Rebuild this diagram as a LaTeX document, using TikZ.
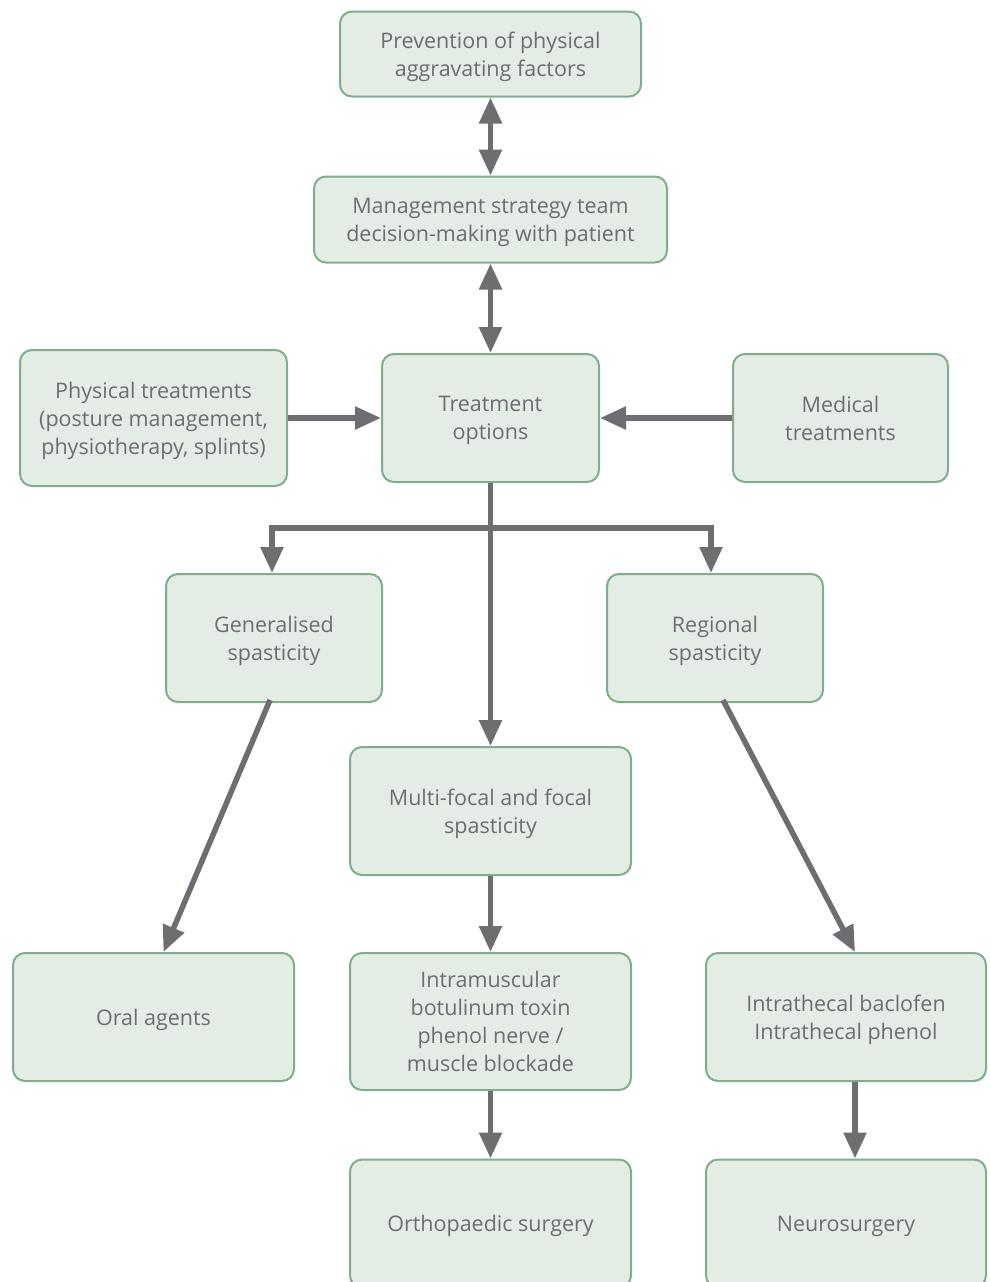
\documentclass[tikz,border=0pt]{standalone}
\usepackage{fontspec}
\setmainfont{Open Sans}
\usetikzlibrary{arrows.meta}
\definecolor{boxfill}{HTML}{E3ECE5}
\definecolor{boxline}{HTML}{80AD8C}
\definecolor{txt}{HTML}{6D6E71}
\definecolor{arrowc}{HTML}{6D6E72}
\begin{document}
\begin{tikzpicture}[x=1pt,y=-1pt,
  box/.style={draw=boxline, fill=boxfill, line width=2pt, rounded corners=12pt,
    align=center, text=txt, inner sep=0pt, text depth=-5pt,
    font=\fontsize{21.5}{28}\selectfont},
  arr/.style={draw=arrowc, line width=5.5pt, -{Triangle[length=26pt,width=22pt]}},
  darr/.style={draw=arrowc, line width=5.5pt, {Triangle[length=26pt,width=22pt]}-{Triangle[length=26pt,width=22pt]}},
  plain/.style={draw=arrowc, line width=5.5pt}
]
\useasboundingbox (0,0) rectangle (990,1282);

% boxes
\node[box, minimum width=301pt, minimum height=85pt] (prev) at (490.5,54)
  {Prevention of physical\\aggravating factors};
\node[box, minimum width=353pt, minimum height=86pt] (mgmt) at (490.5,219.5)
  {Management strategy team\\decision-making with patient};
\node[box, minimum width=267pt, minimum height=136pt] (phys) at (153.5,418)
  {Physical treatments\\(posture management,\\physiotherapy, splints)};
\node[box, minimum width=217pt, minimum height=128pt] (treat) at (490.5,418)
  {Treatment\\options};
\node[box, minimum width=215pt, minimum height=128pt] (med) at (840.5,418)
  {Medical\\treatments};
\node[box, minimum width=216pt, minimum height=128pt] (gen) at (274,638)
  {Generalised\\spasticity};
\node[box, minimum width=216pt, minimum height=128pt] (reg) at (715,638)
  {Regional\\spasticity};
\node[box, minimum width=281pt, minimum height=128pt] (multi) at (490.5,811)
  {Multi-focal and focal\\spasticity};
\node[box, minimum width=281pt, minimum height=128pt] (oral) at (153.5,1017)
  {Oral agents};
\node[box, minimum width=281pt, minimum height=137pt] (intra) at (490.5,1021.5)
  {Intramuscular\\botulinum toxin\\phenol nerve /\\muscle blockade};
\node[box, minimum width=280pt, minimum height=128pt] (ith) at (846,1017)
  {Intrathecal baclofen\\Intrathecal phenol};
% the last row runs past the lower edge of the page
\node[box, minimum width=281pt, minimum height=128pt] (ortho) at (490.5,1223.5)
  {Orthopaedic surgery};
\node[box, minimum width=280pt, minimum height=128pt] (neuro) at (846,1223.5)
  {Neurosurgery};

% connectors
\draw[darr] (prev.south) -- (mgmt.north);
\draw[darr] (mgmt.south) -- (treat.north);
\draw[arr] (phys.east) -- (treat.west);
\draw[arr] (med.west) -- (treat.east);
\draw[arr] (treat.south) -- (multi.north);
\coordinate (split) at (490.5,528);
\draw[plain] (treat.south) -- (split);
\draw[arr] (split) -| ([xshift=-2pt]gen.north);
\draw[arr] (split) -| ([xshift=-4pt]reg.north);
\draw[arr] ([xshift=-4pt,yshift=3pt]gen.south) -- ([xshift=10pt]oral.north);
\draw[arr] ([xshift=8pt,yshift=3pt]reg.south) -- ([xshift=9pt]ith.north);
\draw[arr] (multi.south) -- (intra.north);
\draw[arr] (intra.south) -- (ortho.north);
\draw[arr] ([xshift=9pt]ith.south) -- ([xshift=9pt]neuro.north);
\end{tikzpicture}
\end{document}
